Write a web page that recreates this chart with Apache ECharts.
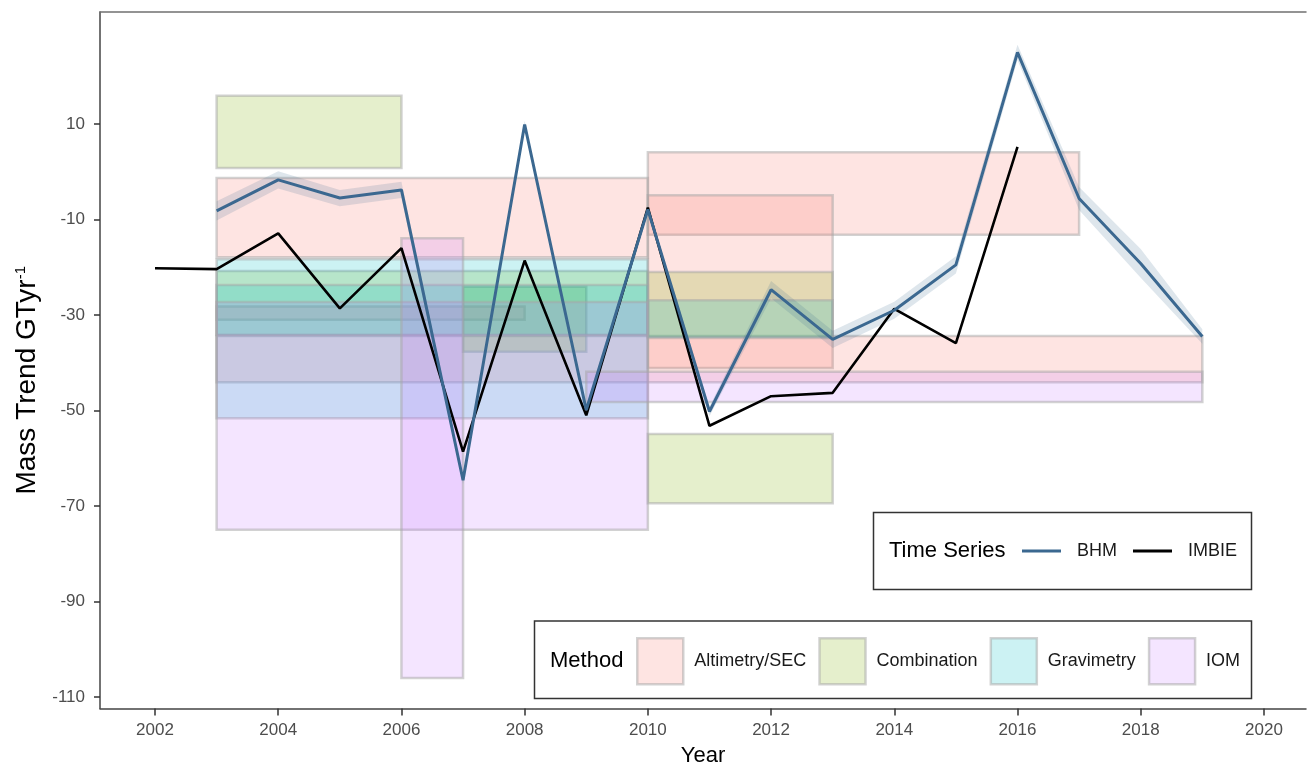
<!DOCTYPE html>
<html>
<head>
<meta charset="utf-8">
<script src="https://cdn.jsdelivr.net/npm/echarts@6/dist/echarts.min.js"></script>
<style>
  html, body { margin: 0; padding: 0; background: #ffffff; }
  #chart { width: 1308px; height: 765px; }
</style>
</head>
<body>
<div id="chart"></div>
<script>
// ---- data ----
const imbieYears = [2002, 2003, 2004, 2005, 2006, 2007, 2008, 2009, 2010, 2011, 2012, 2013, 2014, 2015, 2016];
const imbieTrend = [-20.2, -20.4, -12.9, -28.6, -16.0, -58.6, -18.6, -51.0, -7.5, -53.2, -47.0, -46.3, -28.7, -35.9, 5.2];

const bhmYears  = [2003, 2004, 2005, 2006, 2007, 2008, 2009, 2010, 2011, 2012, 2013, 2014, 2015, 2016, 2017, 2018, 2019];
const bhmTrend  = [-8.2, -1.7, -5.5, -3.8, -64.6, 9.9, -49.9, -7.9, -50.2, -24.7, -35.1, -29.0, -19.5, 25.0, -5.6, -19.2, -34.5];
const bhmSpread = [2.0, 1.8, 1.7, 1.7, 0.8, 0.8, 0.8, 0.8, 1.0, 1.8, 1.8, 1.8, 1.8, 1.6, 2.4, 3.0, 1.5];

// study estimates: [start year, end year, lower, upper]
const altimetryRects = [
  [2003, 2010, -17.9, -1.3],
  [2010, 2017, -13.2, 4.1],
  [2010, 2013, -41.1, -4.9],
  [2003, 2019, -44.1, -34.4],
  [2003, 2008, -31.0, -28.2]
];
const combinationRects = [
  [2003, 2006, 0.8, 15.9],
  [2010, 2013, -34.6, -21.0],
  [2007, 2009, -37.7, -24.1],
  [2003, 2010, -34.2, -20.8],
  [2010, 2013, -69.4, -54.9]
];
const gravimetryRects = [
  [2003, 2010, -51.6, -18.3],
  [2003, 2010, -34.2, -23.7],
  [2010, 2013, -34.8, -26.9]
];
const iomRects = [
  [2003, 2010, -75.0, -27.3],
  [2006, 2007, -106.0, -13.9],
  [2009, 2019, -48.2, -41.9]
];

const methodNames = ['Altimetry/SEC', 'Combination', 'Gravimetry', 'IOM'];
const seriesNames = ['BHM', 'IMBIE'];
const xTicks = [2002, 2004, 2006, 2008, 2010, 2012, 2014, 2016, 2018, 2020];
const yTicks = [-110, -90, -70, -50, -30, -10, 10];

// ---- styles ----
const SANS = "'Liberation Sans', Arial, Helvetica, sans-serif";
const RECT_BORDER = 'rgba(165,165,165,0.5)';
const methodFill = {
  'Altimetry/SEC': 'rgba(248,118,109,0.2)',
  'Combination':   'rgba(124,174,0,0.2)',
  'Gravimetry':    'rgba(0,191,196,0.2)',
  'IOM':           'rgba(199,124,255,0.2)'
};
const BHM_COLOR = '#3b6890';
const IMBIE_COLOR = '#000000';

function rectSeries(name, rects) {
  const fill = methodFill[name];
  return {
    name: name,
    type: 'custom',
    silent: true,
    z: 1,
    itemStyle: { color: fill, borderColor: RECT_BORDER, borderWidth: 2.5 },
    encode: { x: [0, 1], y: [2, 3] },
    data: rects,
    renderItem: function (params, api) {
      const p0 = api.coord([api.value(0), api.value(3)]);
      const p1 = api.coord([api.value(1), api.value(2)]);
      return {
        type: 'rect',
        shape: { x: p0[0], y: p0[1], width: p1[0] - p0[0], height: p1[1] - p0[1] },
        style: { fill: fill, stroke: RECT_BORDER, lineWidth: 2.5 }
      };
    }
  };
}

const ribbonData = bhmYears.map((y, i) => [y, bhmTrend[i] - bhmSpread[i], bhmTrend[i] + bhmSpread[i]]);

const ribbonSeries = {
  name: 'BHM band',
  type: 'custom',
  silent: true,
  z: 2,
  encode: { x: 0, y: [1, 2] },
  data: ribbonData,
  renderItem: function (params, api) {
    if (params.dataIndex !== 0) return null;
    const upper = ribbonData.map(d => api.coord([d[0], d[2]]));
    const lower = ribbonData.map(d => api.coord([d[0], d[1]])).reverse();
    return {
      type: 'polygon',
      shape: { points: upper.concat(lower) },
      style: { fill: 'rgba(59,104,144,0.17)', stroke: null }
    };
  }
};

const chart = echarts.init(document.getElementById('chart'), null, { renderer: 'canvas' });

const option = {
  animation: false,
  backgroundColor: '#ffffff',
  grid: { left: 100, right: 2, top: 12, bottom: 56.5, containLabel: false, outerBoundsMode: 'none' },
  xAxis: [
    {
      type: 'value',
      min: 2001.107,
      max: 2020.683,
      name: 'Year',
      nameLocation: 'middle',
      nameGap: 36,
      nameTextStyle: { fontFamily: SANS, fontSize: 22, color: '#000' },
      axisLine: { show: true, onZero: false, lineStyle: { color: '#444', width: 1.5 } },
      axisTick: { show: true, length: 7, lineStyle: { color: '#333', width: 1.5 }, customValues: xTicks },
      axisLabel: { customValues: xTicks, fontFamily: SANS, fontSize: 17, color: '#4d4d4d', margin: 13,
                   formatter: v => String(v) },
      splitLine: { show: false }
    },
    {
      type: 'value',
      position: 'top',
      min: 2001.107,
      max: 2020.683,
      axisLine: { show: true, onZero: false, lineStyle: { color: '#707070', width: 1.5 } },
      axisTick: { show: false },
      axisLabel: { show: false },
      splitLine: { show: false }
    }
  ],
  yAxis: {
    type: 'value',
    min: -112.41,
    max: 33.46,
    name: 'Mass Trend GTyr{sup|-1}',
    nameLocation: 'middle',
    nameGap: 56,
    nameTextStyle: {
      fontFamily: SANS, fontSize: 28, color: '#000', padding: [0, 40, 0, 0],
      rich: { sup: { fontFamily: SANS, fontSize: 15, verticalAlign: 'top', padding: [0, 0, 13, 0] } }
    },
    axisLine: { show: true, onZero: false, lineStyle: { color: '#444', width: 1.5 } },
    axisTick: { show: true, length: 6, lineStyle: { color: '#333', width: 1.5 }, customValues: yTicks },
    axisLabel: { customValues: yTicks, fontFamily: SANS, fontSize: 17, color: '#4d4d4d', margin: 15 },
    splitLine: { show: false }
  },
  legend: [
    {
      data: [{ name: 'BHM', icon: 'rect' }, { name: 'IMBIE', icon: 'rect' }],
      z: 20,
      left: 1022,
      top: 542,
      width: 260,
      padding: 0,
      orient: 'horizontal',
      itemWidth: 39,
      itemHeight: 3,
      itemGap: 16,
      selectedMode: false,
      textStyle: { fontFamily: SANS, fontSize: 18, color: '#1a1a1a', padding: [0, 0, 0, 11] }
    },
    {
      data: methodNames.map(n => ({ name: n, icon: 'rect',
        itemStyle: { color: methodFill[n], borderColor: RECT_BORDER, borderWidth: 2.5 } })),
      z: 20,
      left: 636,
      top: 637,
      width: 660,
      padding: 0,
      orient: 'horizontal',
      itemWidth: 46,
      itemHeight: 46,
      itemGap: 12,
      selectedMode: false,
      textStyle: { fontFamily: SANS, fontSize: 18, color: '#1a1a1a', padding: [0, 0, 0, 6] }
    }
  ],
  graphic: [
    {
      type: 'rect', z: 10,
      shape: { x: 873.5, y: 512.5, width: 378, height: 77 },
      style: { fill: '#ffffff', stroke: '#333', lineWidth: 1.5 }
    },
    {
      type: 'text', z: 21,
      style: { x: 889, y: 551, text: 'Time Series', fontFamily: SANS, fontSize: 22,
               fill: '#000', verticalAlign: 'middle', textAlign: 'left' }
    },
    {
      type: 'rect', z: 10,
      shape: { x: 534.5, y: 621, width: 717, height: 77.5 },
      style: { fill: '#ffffff', stroke: '#333', lineWidth: 1.5 }
    },
    {
      type: 'text', z: 21,
      style: { x: 550, y: 661, text: 'Method', fontFamily: SANS, fontSize: 22,
               fill: '#000', verticalAlign: 'middle', textAlign: 'left' }
    }
  ],
  series: [
    rectSeries('Altimetry/SEC', altimetryRects),
    rectSeries('Combination', combinationRects),
    rectSeries('Gravimetry', gravimetryRects),
    rectSeries('IOM', iomRects),
    ribbonSeries,
    {
      name: 'IMBIE',
      type: 'line',
      z: 3,
      silent: true,
      symbol: 'none',
      color: IMBIE_COLOR,
      lineStyle: { color: IMBIE_COLOR, width: 2.6 },
      data: imbieYears.map((y, i) => [y, imbieTrend[i]])
    },
    {
      name: 'BHM',
      type: 'line',
      z: 4,
      silent: true,
      symbol: 'none',
      color: BHM_COLOR,
      lineStyle: { color: BHM_COLOR, width: 3 },
      data: bhmYears.map((y, i) => [y, bhmTrend[i]])
    }
  ]
};

chart.setOption(option);
</script>
</body>
</html>
